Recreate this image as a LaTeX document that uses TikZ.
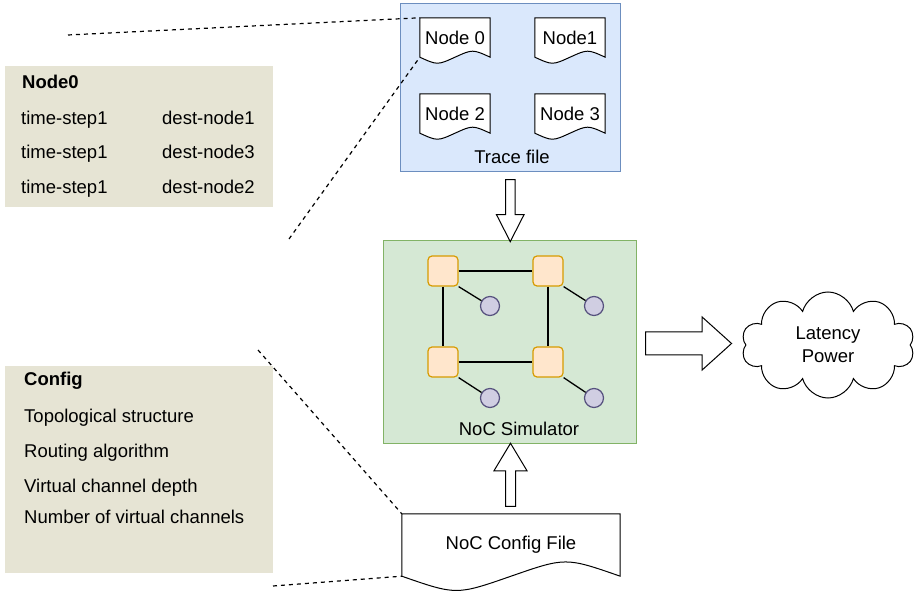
\documentclass[tikz,border=0pt]{standalone}
\usepackage{fontspec}
\setmainfont{Liberation Sans}
\usetikzlibrary{shapes.symbols, shapes.arrows, calc, backgrounds}
\tikzset{
  font={\fontsize{18.5pt}{23pt}\selectfont}}
\definecolor{tracefill}{HTML}{DAE8FC}
\definecolor{traceline}{HTML}{6C8EBF}
\definecolor{simfill}{HTML}{D5E8D4}
\definecolor{simline}{HTML}{82B366}
\definecolor{routerfill}{HTML}{FFE6CC}
\definecolor{routerline}{HTML}{D79B00}
\definecolor{corefill}{HTML}{D0CEE2}
\definecolor{coreline}{HTML}{56517E}
\definecolor{panelfill}{HTML}{E6E4D4}
\tikzset{
  docfile/.style={inner sep=0pt, minimum width=70, minimum height=39},
  docline/.style={draw, fill=white, line width=1pt},
  panel/.style={fill=panelfill, anchor=north west, inner sep=0pt},
  paneltext/.style={anchor=west, inner sep=0pt, text height=13.5pt, text depth=0pt},
  paneltitle/.style={paneltext, font={\fontsize{18.5pt}{23pt}\selectfont\bfseries}},
  router/.style={draw=routerline, fill=routerfill, line width=1.2pt, rounded corners=4pt, minimum size=30},
  core/.style={circle, draw=coreline, fill=corefill, line width=1.2pt, minimum size=19, inner sep=0pt},
  link/.style={line width=1.3pt},
  blockarrow/.style={single arrow, draw, fill=white, line width=1pt, inner xsep=0pt, single arrow head indent=0pt},
  zoomline/.style={line width=1.2pt, dash pattern=on 4pt off 4pt}
}

\begin{document}
\begin{tikzpicture}[x=1pt, y=-1pt]
\useasboundingbox (0,0) rectangle (924,593);

% trace files
\node (n0) [docfile] at (455,37.5) {Node 0};
\node (n1) [docfile] at (570,37.5) {Node1};
\node (n2) [docfile] at (455,113.5) {Node 2};
\node (n3) [docfile] at (570,113.5) {Node 3};
\node (tracelbl) at (512,157) {Trace file};
\node (cfg) [docfile, minimum width=218, minimum height=62] at (511,545) {NoC Config File};

\begin{scope}[on background layer]
  \node (tracebox) [draw=traceline, fill=tracefill, line width=1.2pt, minimum width=220, minimum height=168] at (510.5,87.5) {};
  \foreach \n/\a in {n0/8, n1/8, n2/8, n3/8, cfg/19}
    \draw[docline] (\n.south west) -- (\n.north west) -- (\n.north east) -- (\n.south east)
      .. controls ($(\n.south east)!0.5!(\n.south)+(0,-\a)$) .. (\n.south)
      .. controls ($(\n.south)!0.5!(\n.south west)+(0,\a)$) .. (\n.south west) -- cycle;
\end{scope}

% simulator
\node (sim) [draw=simline, fill=simfill, line width=1.2pt, minimum width=253, minimum height=203] at (510,342) {};
\node (simlbl) at (519,429) {NoC Simulator};
\node (r1) [router] at (443,271) {};
\node (r2) [router] at (548,271) {};
\node (r3) [router] at (443,362) {};
\node (r4) [router] at (548,362) {};
\node (c1) [core] at (490,306) {};
\node (c2) [core] at (594,306) {};
\node (c3) [core] at (490,398) {};
\node (c4) [core] at (594,398) {};
\draw[link] (r1) -- (r2);
\draw[link] (r1) -- (r3);
\draw[link] (r2) -- (r4);
\draw[link] (r3) -- (r4);
\foreach \i in {1,...,4}
  \draw[link] (r\i.south east) -- (c\i);

% result
\node (res) [cloud, draw, line width=1pt, cloud puffs=10, aspect=1.63, minimum width=173, minimum height=106, align=center] at (828,345) {Latency\\Power};

% block arrows
\node (down) [blockarrow, rotate=-90, minimum height=62, inner ysep=4.25pt, single arrow head extend=9, single arrow tip angle=54] at ($(tracebox.south)!0.5!(sim.north)$) {};
\node (up) [blockarrow, rotate=90, minimum height=63, inner ysep=4.5pt, single arrow head extend=11.5, single arrow tip angle=62] at ($(sim.south)!0.5!(cfg.north)$) {};
\node (out) [blockarrow, minimum height=86, inner ysep=11pt, single arrow head extend=15, single arrow tip angle=84, xshift=-9pt] at ($(sim.east)!0.5!(res.west)$) {};

% detail panels
\node (tracepanel) [panel, minimum width=268, minimum height=141] at (5,66) {};
\node (tracehdr) [paneltitle] at (22,82) {Node0};
\foreach \y/\d in {118/1, 152/3, 187/2} {
  \node (ts\d) [paneltext] at (21,\y) {time-step1};
  \node (dn\d) [paneltext] at (162,\y) {dest-node\d};
}
\node (cfgpanel) [panel, minimum width=268, minimum height=207] at (5,366) {};
\node (cfghdr) [paneltitle] at (24,379) {Config};
\foreach \y/\t [count=\i] in {416/Topological structure, 451/Routing algorithm, 486/Virtual channel depth, 517/Number of virtual channels}
  \node (cf\i) [paneltext] at (24,\y) {\t};

% zoom lines
\coordinate (z1) at (68,35);
\coordinate (z2) at (289,239);
\coordinate (z3) at (258,350);
\coordinate (z4) at (273,586);
\draw[zoomline] (z1) -- (n0.north west);
\draw[zoomline] (z2) -- (n0.south west);
\draw[zoomline] (z3) -- (cfg.north west);
\draw[zoomline] (z4) -- (cfg.south west);
\end{tikzpicture}
\end{document}
